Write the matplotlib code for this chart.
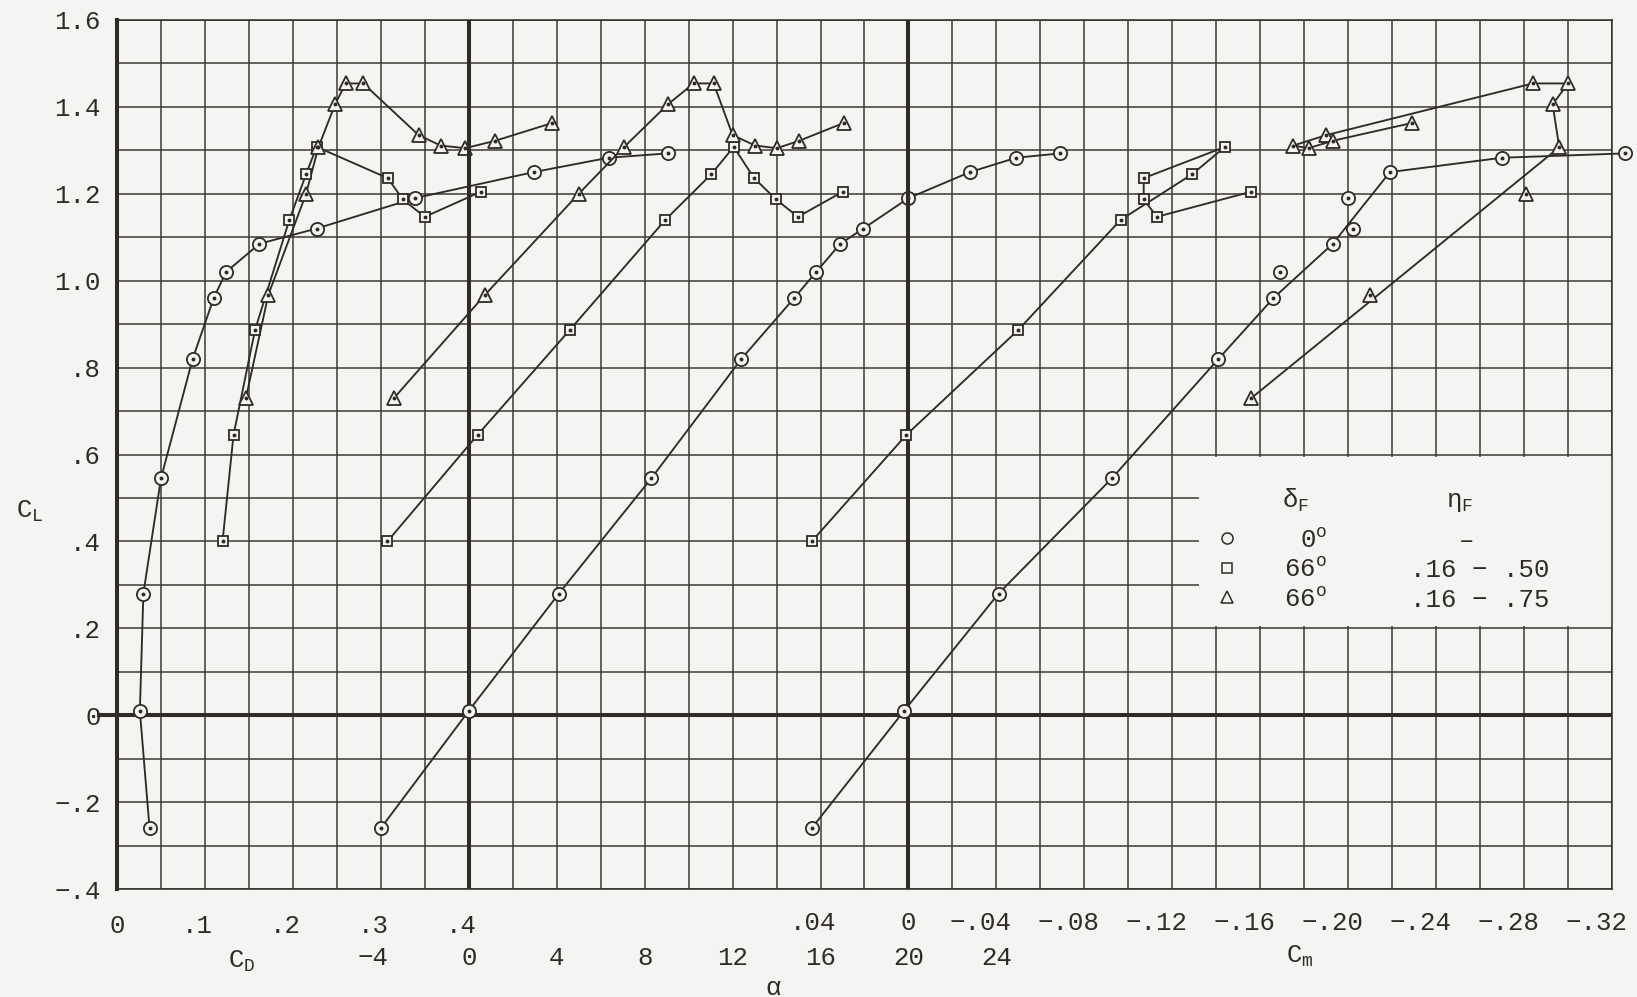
import matplotlib
matplotlib.use("Agg")
import matplotlib.pyplot as plt
import matplotlib.transforms as mtransforms
from matplotlib.patches import Rectangle
import numpy as np

plt.rcParams['font.family'] = ['Liberation Mono', 'DejaVu Sans Mono']
plt.rcParams['mathtext.fontset'] = 'custom'
plt.rcParams['mathtext.rm'] = 'Liberation Mono'
plt.rcParams['mathtext.it'] = 'Liberation Mono'
plt.rcParams['mathtext.bf'] = 'Liberation Mono'

PAPER = '#f4f4f2'
INK = '#302b28'
FS = 18.5

# ---- delta_F = 0 deg (circles) ----
cl_circ = [-0.26, 0.01, 0.28, 0.545, 0.82, 0.96, 1.02, 1.085, 1.12, 1.19, 1.25, 1.283, 1.293]
cd_circ = [0.037, 0.026, 0.030, 0.050, 0.086, 0.110, 0.124, 0.162, 0.227, 0.339, 0.474, 0.559, 0.626]
alpha_circ = [-4.0, 0.0, 4.1, 8.3, 12.4, 14.8, 15.8, 16.9, 17.95, 20.0, 22.8, 24.9, 26.9]
cm_circ = [0.044, 0.002, -0.041, -0.0925, -0.141, -0.166, -0.169, -0.193, -0.202, -0.200, -0.219, -0.270, -0.326]
cm_circ_faired = [True, True, True, True, True, True, False, True, False, False, True, True, True]

# ---- delta_F = 66 deg, eta_F .16-.50 (squares) ----
cl_sq = [0.40, 0.645, 0.887, 1.14, 1.245, 1.308, 1.236, 1.187, 1.147, 1.205]
cd_sq = [0.120, 0.1325, 0.157, 0.196, 0.215, 0.227, 0.308, 0.325, 0.350, 0.414]
alpha_sq = [-3.7, 0.4, 4.6, 8.94, 11.03, 12.05, 12.98, 13.98, 14.97, 17.02]
cm_sq = [0.044, 0.001, -0.050, -0.0965, -0.129, -0.144, -0.107, -0.107, -0.113, -0.156]

# ---- delta_F = 66 deg, eta_F .16-.75 (triangles) ----
cl_tri = [0.73, 0.967, 1.20, 1.307, 1.406, 1.454, 1.454, 1.335, 1.311, 1.305, 1.322, 1.363]
cd_tri = [0.1466, 0.172, 0.215, 0.229, 0.248, 0.260, 0.280, 0.343, 0.368, 0.396, 0.430, 0.495]
alpha_tri = [-3.4, 0.73, 5.0, 7.05, 9.06, 10.23, 11.14, 12.0, 13.03, 14.02, 15.03, 17.05]
cm_tri = [-0.156, -0.210, -0.281, -0.296, -0.293, -0.300, -0.284, -0.190, -0.175, -0.182, -0.193, -0.229]
cm_tri_faired = [True, False, False, True, True, True, True, True, True, True, True, True]

# ---- scale labels ----
cl_ticks = [1.6, 1.4, 1.2, 1.0, 0.8, 0.6, 0.4, 0.2, 0.0, -0.2, -0.4]
cl_labels = ['1.6', '1.4', '1.2', '1.0', '.8', '.6', '.4', '.2', '0', '-.2', '-.4']
cd_ticks = [0.0, 0.1, 0.2, 0.3, 0.4]
cd_labels = ['0', '.1', '.2', '.3', '.4']
alpha_ticks = [-4, 0, 4, 8, 12, 16, 20, 24]
alpha_labels = ['-4', '0', '4', '8', '12', '16', '20', '24']
cm_ticks = [0.04, 0.0, -0.04, -0.08, -0.12, -0.16, -0.20, -0.24, -0.28, -0.32]
cm_labels = ['.04', '0', '-.04', '-.08', '-.12', '-.16', '-.20', '-.24', '-.28', '-.32']

legend_rows = [('o', '0', '-'), ('s', '66', '.16 - .50'), ('^', '66', '.16 - .75')]

W, H = 1637, 997
fig = plt.figure(figsize=(W / 100, H / 100), dpi=100, facecolor=PAPER)
L, R, T, B = 117, 1612, 20, 889
ax = fig.add_axes([L / W, 1 - B / H, (R - L) / W, (B - T) / H])
ax.set_facecolor(PAPER)

# drag axis: 0.05 per grid cell, 34 cells across
ax.set_xlim(0, 1.7)
ax.set_ylim(-0.4, 1.6)
ax.set_xticks(np.arange(0, 1.7001, 0.05))
ax.set_yticks(np.arange(-0.4, 1.6001, 0.1))
ax.tick_params(length=0, labelbottom=False, labelleft=False)
ax.set_axisbelow(True)
ax.grid(True, color='#3e3935', lw=1.1)
for side, sp in ax.spines.items():
    sp.set_color(INK)
    sp.set_linewidth(2.9 if side == 'left' else 1.1)

# angle-of-attack axis: 2 deg per cell, alpha = 0 at CD = .4
ax_a = ax.twiny()
ax_a.set_xlim(-16, 52)
ax_a.axis('off')
# pitching-moment axis: .02 per cell, Cm = 0 at alpha = 20
ax_cm = ax.twiny()
ax_cm.set_xlim(0.36, -0.32)
ax_cm.axis('off')

# heavy reference lines
ax.axhline(0, color=INK, lw=2.9, zorder=1)
ax_a.axvline(0, color=INK, lw=2.9, zorder=1)
ax_cm.axvline(0, color=INK, lw=2.9, zorder=1)
ax.plot([-0.012, 0], [0, 0], color=INK, lw=2.9, clip_on=False,
        transform=mtransforms.blended_transform_factory(ax.transAxes, ax.transData))

# blank panel behind the key
ax.add_patch(Rectangle((24.6 / 34, 0.205), 1 - 24.6 / 34, 0.39, facecolor=PAPER,
                       edgecolor='none', zorder=0.8,
                       transform=mtransforms.blended_transform_factory(ax.transAxes, ax.transData)))


def draw(axis, x, y, marker, ms, faired=None):
    x = np.asarray(x, float)
    y = np.asarray(y, float)
    m = np.ones(len(x), bool) if faired is None else np.asarray(faired, bool)
    axis.plot(x[m], y[m], '-', color=INK, lw=1.35, zorder=3, clip_on=False)
    axis.plot(x, y, linestyle='none', marker=marker, ms=ms, mfc=PAPER, mec=INK,
              mew=1.3, zorder=4, clip_on=False)
    axis.plot(x, y, linestyle='none', marker='o', ms=1.8, mfc=INK, mec=INK,
              zorder=5, clip_on=False)


MS = {'o': 9.5, 's': 7.6, '^': 9.5}
draw(ax, cd_circ, cl_circ, 'o', MS['o'])
draw(ax, cd_sq, cl_sq, 's', MS['s'])
draw(ax, cd_tri, cl_tri, '^', MS['^'])
draw(ax_a, alpha_circ, cl_circ, 'o', MS['o'])
draw(ax_a, alpha_sq, cl_sq, 's', MS['s'])
draw(ax_a, alpha_tri, cl_tri, '^', MS['^'])
draw(ax_cm, cm_circ, cl_circ, 'o', MS['o'], cm_circ_faired)
draw(ax_cm, cm_sq, cl_sq, 's', MS['s'])
draw(ax_cm, cm_tri, cl_tri, '^', MS['^'], cm_tri_faired)


def txt(s):
    return s.replace('-', '\u2212')


# lift-coefficient scale
ytr = mtransforms.offset_copy(ax.get_yaxis_transform(), fig=fig, x=-16, y=0, units='dots')
for v, s in zip(cl_ticks, cl_labels):
    ax.text(0, v, txt(s), transform=ytr, ha='right', va='center_baseline',
            fontsize=FS, color=INK, clip_on=False)


def bottom_row(axis, ticks, labels, ypx):
    base = mtransforms.blended_transform_factory(axis.transData, fig.transFigure)
    for v, s in zip(ticks, labels):
        prefix = len(s) - len(s.lstrip('-.'))
        tr = mtransforms.offset_copy(base, fig=fig, x=-prefix * 0.3 * FS, units='points')
        axis.text(v, 1 - ypx / H, txt(s), transform=tr, ha='center',
                  va='center_baseline', fontsize=FS, color=INK, clip_on=False)


bottom_row(ax, cd_ticks, cd_labels, 923)
bottom_row(ax_a, alpha_ticks, alpha_labels, 955)
bottom_row(ax_cm, cm_ticks, cm_labels, 920)

fig.text(30 / W, 1 - 508 / H, r'C$_\mathrm{L}$', fontsize=FS, color=INK,
         ha='center', va='center_baseline')
fig.text(242 / W, 1 - 958 / H, r'C$_\mathrm{D}$', fontsize=FS, color=INK,
         ha='center', va='center_baseline')
fig.text(773 / W, 1 - 985 / H, '\u03b1', fontsize=FS, color=INK,
         ha='center', va='center_baseline')
fig.text(1300 / W, 1 - 953 / H, r'C$_\mathrm{m}$', fontsize=FS, color=INK,
         ha='center', va='center_baseline')

# key
fig.text(1296 / W, 1 - 497 / H, r'$\delta_\mathrm{F}$', fontsize=FS, color=INK,
         ha='center', va='center_baseline')
fig.text(1460 / W, 1 - 499 / H, r'$\eta_\mathrm{F}$', fontsize=FS, color=INK,
         ha='center', va='center_baseline')
key_ms = {'o': 8.0, 's': 6.8, '^': 8.5}
for i, (mk, df, eta) in enumerate(legend_rows):
    ypx = 538 + i * 29.5
    fy = 1 - ypx / H
    fig.lines.append(plt.Line2D([1227 / W], [fy], transform=fig.transFigure,
                                linestyle='none', marker=mk, ms=key_ms[mk],
                                mfc='none', mec=INK, mew=1.1))
    fig.text(1327 / W, fy, df + r'$^\mathrm{o}$', fontsize=FS, color=INK,
             ha='right', va='center_baseline')
    fig.text(1480 / W if len(eta) > 1 else 1467 / W, fy, txt(eta) if len(eta) > 1 else '\u2013',
             fontsize=FS, color=INK, ha='center', va='center_baseline')

fig.savefig('out.png', dpi=100, facecolor=PAPER)
